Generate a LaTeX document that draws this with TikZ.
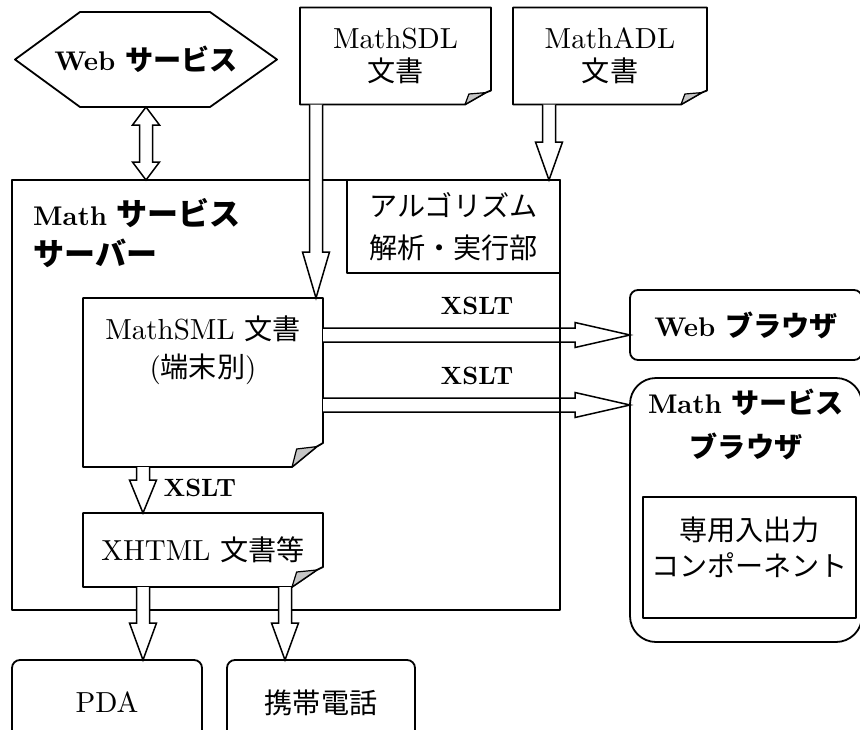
\documentclass[tikz,border=0pt]{standalone}
\usepackage{fontspec}
\setmainfont{lmroman10-regular.otf}[BoldFont=lmroman10-bold.otf]
\newfontfamily\jp[Scale=0.97]{Noto Sans CJK JP}
\usetikzlibrary{calc,positioning}

% Dokument mit umgeknickter Ecke unten rechts
\def\dokument#1#2#3{
	\draw[rand] (#1.north west) -- (#1.north east) -- ($(#1.south east)+(0,-#3)$)
		-- ($(#1.south east)+(-0.2*#2,-0.85*#3)$) -- ($(#1.south east)+(-#2,0)$)
		-- (#1.south west) -- cycle;
	\draw[rand,line width=1.2pt,fill=gray!45] ($(#1.south east)+(-0.2*#2,-0.85*#3)$)
		-- ($(#1.south east)+(-0.85*#2,-0.75*#3)$) -- ($(#1.south east)+(-#2,0)$) -- cycle;
}
% Blockpfeile
\def\pfeilab#1#2#3{
	\draw[pfeil] let \p1=#1, \p2=#2 in
		(\x1-6.5pt,\y1) -- (\x1-6.5pt,\y2+#3) -- (\x1-13.5pt,\y2+#3) -- (\x1,\y2)
		-- (\x1+13.5pt,\y2+#3) -- (\x1+6.5pt,\y2+#3) -- (\x1+6.5pt,\y1);
}
\def\pfeilrechts#1#2#3{
	\draw[pfeil] let \p1=#1, \p2=#2 in
		(\x1,\y1+7pt) -- (\x2-#3,\y1+7pt) -- (\x2-#3,\y1+12.5pt) -- (\x2,\y1)
		-- (\x2-#3,\y1-12.5pt) -- (\x2-#3,\y1-7pt) -- (\x1,\y1-7pt);
}
\def\doppelpfeil#1#2#3{
	\draw[pfeil] let \p1=#1, \p2=#2 in
		(\x1,\y1) -- (\x1+13.5pt,\y1-#3) -- (\x1+6.5pt,\y1-#3) -- (\x1+6.5pt,\y2+#3)
		-- (\x1+13.5pt,\y2+#3) -- (\x1,\y2) -- (\x1-13.5pt,\y2+#3) -- (\x1-6.5pt,\y2+#3)
		-- (\x1-6.5pt,\y1-#3) -- (\x1-13.5pt,\y1-#3) -- cycle;
}
\def\lfett#1{{\fontsize{27}{36}\selectfont\bfseries #1}}
\def\jpnormal#1{{\fontsize{29}{36}\selectfont\jp #1}}
\def\jpgross#1{{\fontsize{32}{40}\selectfont\jp #1}}

\begin{document}
\begin{tikzpicture}[x=1pt,y=-1pt,font=\fontsize{29}{36}\selectfont,
	rand/.style={line width=1.8pt,line join=round},
	pfeil/.style={draw,fill=white,line width=1.5pt,line join=miter},
	fett/.style={font=\fontsize{25}{36}\selectfont\bfseries},
	kasten/.style={inner sep=0pt,outer sep=0pt,align=center},
	box/.style={kasten,draw,rand},
	rund/.style={box,rounded corners=8pt}]
\clip (0,0) rectangle (860,729);

% Quellen oben
\node[kasten,fett,minimum width=262pt,minimum height=95pt] (websvc) at (146,59.5)
	{\lfett{Web} \jpnormal{サービス}};
\draw[rand] (websvc.west) -- ($(websvc.north west)+(65,0)$) -- ($(websvc.north east)+(-67,0)$)
	-- (websvc.east) -- ($(websvc.south east)+(-67,0)$) -- ($(websvc.south west)+(65,0)$) -- cycle;
\node[kasten,minimum width=191pt,minimum height=97pt] (sdl) at (395.5,56) {MathSDL\\[-3pt]{\jp 文書}};
\dokument{sdl}{26}{14}
\node[kasten,minimum width=194pt,minimum height=97pt] (adl) at (610,56) {MathADL\\[-3pt]{\jp 文書}};
\dokument{adl}{26}{14}

% Server
\node[box,minimum width=548pt,minimum height=430pt] (server) at (286,395) {};
\node[anchor=north west,inner sep=0pt,align=left,fett,font=\fontsize{24}{40}\selectfont\bfseries]
	(titel) at (33,198) {\lfett{Math} \jpgross{サービス}\\\jpgross{サーバー}};
\node[box,minimum width=213pt,minimum height=93pt] (algo) at (453.5,226.5)
	{\jp アルゴリズム\\[6pt]\jp 解析・実行部};
\node[kasten,minimum width=240pt,minimum height=169pt] (sml) at (203,382.5) {};
\dokument{sml}{31}{24}
\node[below=14pt of sml.north,align=center] (smltext) {MathSML {\jp 文書}\\[2pt]({\jp 端末別})};
\node[kasten,minimum width=240pt,minimum height=74pt] (xhtml) at (203,550) {XHTML {\jp 文書等}};
\dokument{xhtml}{31}{20}

% Endgeraete
\node[rund,minimum width=190pt,minimum height=85pt] (pda) at (107,702.5) {PDA};
\node[rund,minimum width=188pt,minimum height=85pt] (keitai) at (321,702.5) {\jpnormal{携帯電話}};
\node[rund,fett,minimum width=232pt,minimum height=70pt] (webbr) at (746,325)
	{\lfett{Web} \jpnormal{ブラウザ}};
\node[rund,rounded corners=26pt,minimum width=232pt,minimum height=264pt] (mathbr) at (746,510) {};
\node[below=7pt of mathbr.north,align=center,fett]
	(mathbrtext) {\lfett{Math} \jpnormal{サービス}\\[8pt]\jpnormal{ブラウザ}};
\node[box,minimum width=213pt,minimum height=121pt] (komp) at (749.5,557.5)
	{\jp 専用入出力\\\jp コンポーネント\\[-14pt]\mbox{}};

% Pfeile
\coordinate (sdlaus) at ($(sdl.south west)+(16,0)$);
\coordinate (adlaus) at ($(adl.south west)+(36,0)$);
\coordinate (webaus) at ($(sml.north east)+(0,37)$);
\coordinate (mathaus) at ($(sml.north east)+(0,107)$);
\coordinate (smlaus) at ($(sml.south west)+(60,0)$);
\coordinate (pdaaus) at ($(xhtml.south west)+(60,0)$);
\coordinate (keitaiaus) at ($(xhtml.south west)+(202,0)$);
\doppelpfeil{(websvc.south)}{(websvc.south |- server.north)}{18pt}
\pfeilab{(sdlaus)}{(sdlaus |- sml.north)}{46pt}
\pfeilab{(adlaus)}{(adlaus |- algo.north)}{38pt}
\pfeilrechts{(webaus)}{(webaus -| webbr.west)}{55pt}
\pfeilrechts{(mathaus)}{(mathaus -| mathbr.west)}{55pt}
\pfeilab{(smlaus)}{(smlaus |- xhtml.north)}{33pt}
\pfeilab{(pdaaus)}{(pdaaus |- pda.north)}{37pt}
\pfeilab{(keitaiaus)}{(keitaiaus |- keitai.north)}{37pt}
\draw[rand] (server.north east) -- (server.south east);

% XSLT
\node[fett] (xslt1) at (477,306) {XSLT};
\node[fett] (xslt2) at (477,376) {XSLT};
\node[anchor=west,fett] (xslt3) at (160,488) {XSLT};
\end{tikzpicture}
\end{document}
